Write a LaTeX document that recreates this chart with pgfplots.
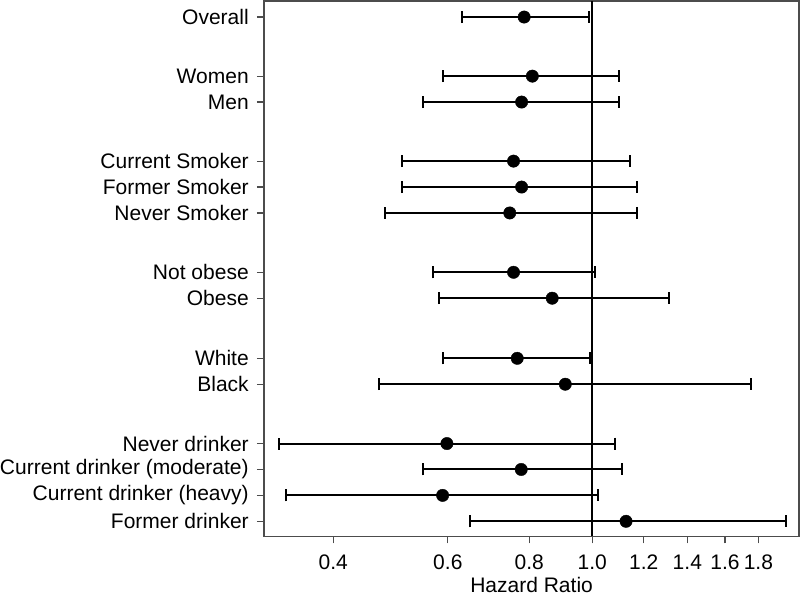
\documentclass[border=0pt]{standalone}
\usepackage{fontspec}
\setmainfont{Liberation Sans}
\usepackage{pgfplots}
\pgfplotsset{compat=1.18}
\usepackage{pgfplotstable}

% hazard ratio with 95% CI, one row per subgroup
\pgfplotstableread{
y     hr    lo    hi
19.46 0.786 0.630 0.989
17.18 0.809 0.590 1.101
16.18 0.779 0.550 1.101
13.90 0.757 0.511 1.142
12.90 0.779 0.511 1.173
11.90 0.747 0.480 1.173
9.61  0.757 0.570 1.010
8.61  0.868 0.581 1.313
6.29  0.767 0.590 0.991
5.29  0.909 0.470 1.751
3.00  0.598 0.330 1.082
2.00  0.778 0.550 1.112
1.00  0.589 0.339 1.020
0.00  1.127 0.650 1.984
}\hrtable

\begin{document}
\begin{tikzpicture}
\begin{axis}[
    scale only axis,
    width=535pt, height=535pt,
    xmode=log,
    xmin=0.313, xmax=2.08,
    ymin=-0.58, ymax=20.08,
    xtick={0.4,0.6,0.8,1.0,1.2,1.4,1.6,1.8},
    xticklabels={0.4,0.6,0.8,1.0,1.2,1.4,1.6,1.8},
    ytick={19.46,17.18,16.18,13.90,12.90,11.90,9.61,8.61,6.29,5.29,3,2,1,0},
    yticklabels={Overall,Women,Men,Current Smoker,Former Smoker,Never Smoker,Not obese,Obese,White,Black,Never drinker,Current drinker (moderate),Current drinker (heavy),Former drinker},
    xtick pos=bottom, ytick pos=left,
    tick align=outside,
    major tick length=7pt,
    tick style={black!70, line width=1.2pt},
    axis line style={black!70, line width=1.5pt},
    ticklabel style={font=\fontsize{21}{25}\selectfont},
    yticklabel style={inner sep=0pt, xshift=-8pt},
    xticklabel style={inner sep=0pt, yshift=-11pt},
    xlabel={Hazard Ratio},
    every axis x label/.style={at={(axis description cs:0.5,0)}, anchor=base,
      yshift=-56pt, inner sep=0pt, text depth=5pt,
      font=\fontsize{21}{25}\selectfont},
    clip=false,
  ]
  \addplot[black, line width=2pt] coordinates {(1,-0.58) (1,20.08)};

  \addplot[
    black, only marks, mark=*, mark size=6.2pt,
    error bars/.cd,
      x dir=both, x explicit,
      error mark=|,
      error bar style={line width=2pt, black},
      error mark options={mark size=6pt, line width=2pt, black},
  ]
  table[x=hr, y=y,
    x error plus expr=\thisrow{hi}-\thisrow{hr},
    x error minus expr=\thisrow{hr}-\thisrow{lo}] {\hrtable};
\end{axis}
\end{tikzpicture}
\end{document}
